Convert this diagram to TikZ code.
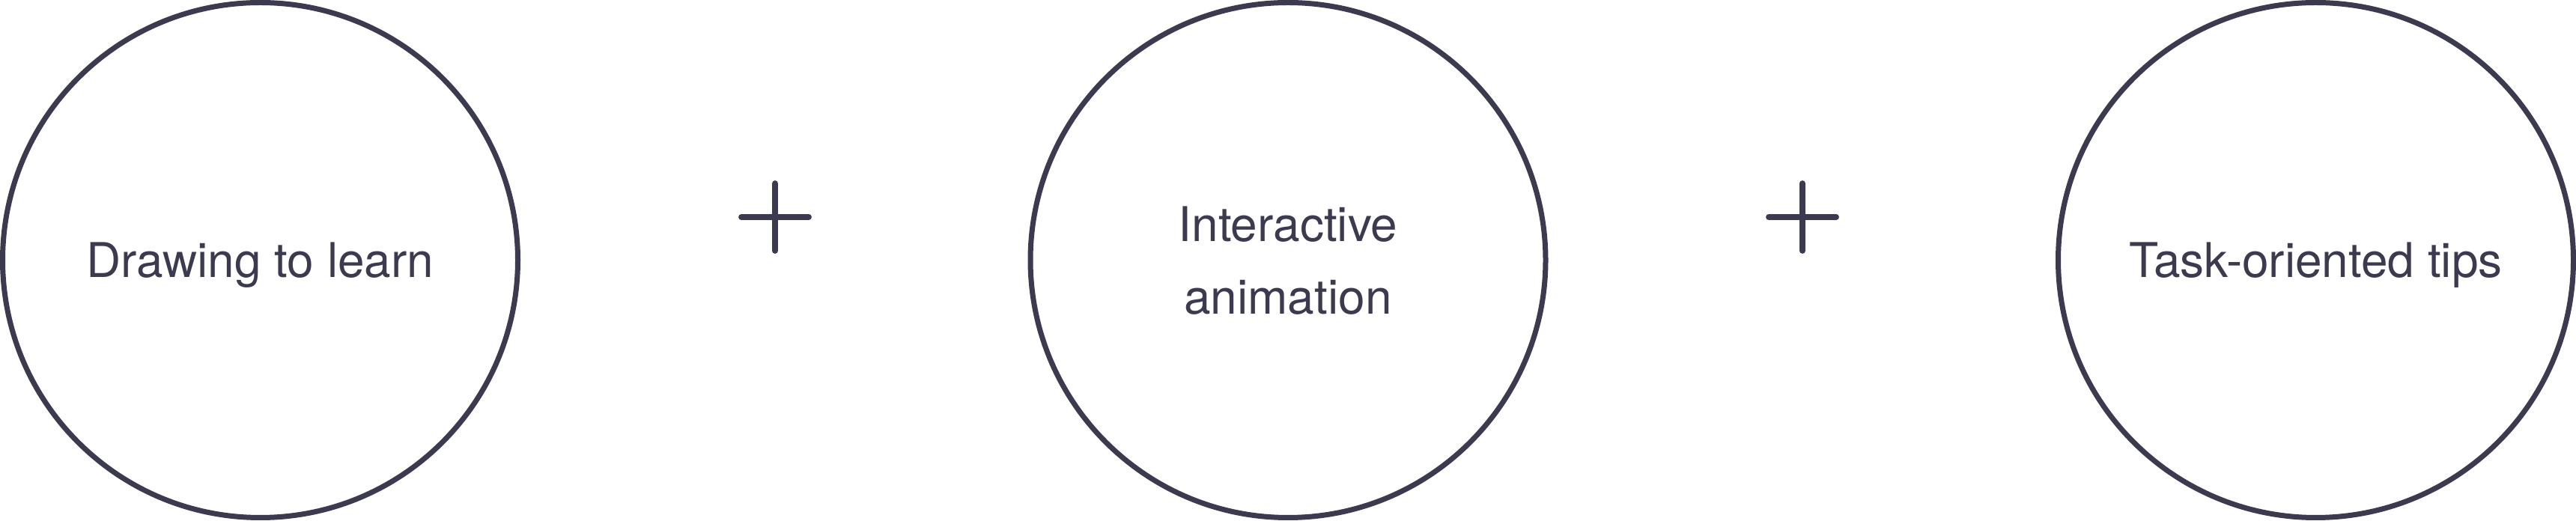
\documentclass[tikz,border=0pt]{standalone}
\usepackage{fontspec}
\setmainfont{TeX Gyre Heros}
\definecolor{inkgray}{RGB}{59,58,78}

\begin{document}
\begin{tikzpicture}[
    idea/.style={circle, draw=inkgray, line width=0.07cm, minimum size=6.88cm, inner sep=0pt,
                 text=inkgray, align=center, text depth=0pt,
                 font=\fontsize{18.2}{27.6}\selectfont},
    plus_sign/.style={draw=inkgray, line width=0.078cm, line cap=round}
]

% 画布大小
\useasboundingbox (0,0) rectangle (34.40,6.96);

% 三个圆
\node[idea] (s1) at (3.475,3.485) {Drawing to learn};
\node[idea] (s2) at (17.20,3.485) {Interactive\\animation};
\node[idea] (s3) at (30.925,3.485) {Task-oriented tips};

% 加号
\coordinate (p1) at (10.35,4.06);
\coordinate (p2) at (24.07,4.06);
\draw[plus_sign] (p1) +(-0.45,0) -- +(0.45,0) (p1) +(0,-0.45) -- +(0,0.45);
\draw[plus_sign] (p2) +(-0.45,0) -- +(0.45,0) (p2) +(0,-0.45) -- +(0,0.45);

\end{tikzpicture}
\end{document}
